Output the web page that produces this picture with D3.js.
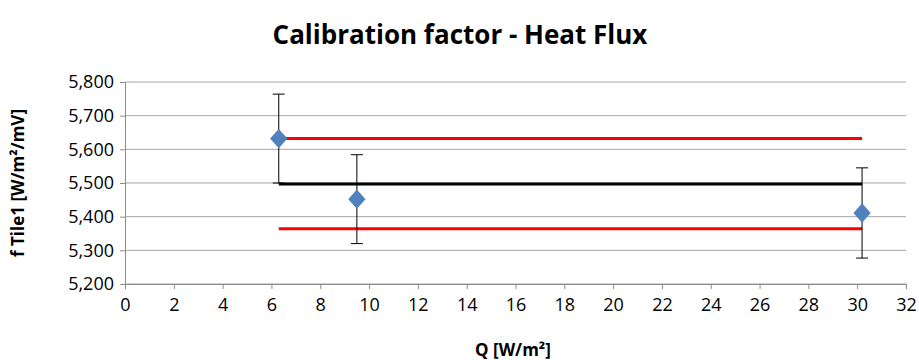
<!DOCTYPE html>
<html>
<head>
<meta charset="utf-8">
<title>Calibration factor - Heat Flux</title>
<script src="https://d3js.org/d3.v7.min.js"></script>
<style>
  body { margin: 0; background: #fff; }
  text { font-family: "Open Sans", "Noto Sans", sans-serif; }
</style>
</head>
<body>
<div id="chart"></div>
<script>
// measured points
var qValues = [6.3, 9.5, 30.2];
var fValues = [5632, 5452, 5411];
var errValues = [132, 132, 134];

// reference lines (mean and limits)
var lineStart = 6.3, lineEnd = 30.2;
var meanValue = 5497;
var upperValue = 5632;
var lowerValue = 5364;

var xTicks = d3.range(0, 33, 2);
var yTicks = [5200, 5300, 5400, 5500, 5600, 5700, 5800];

var svgDims = {width: 919, height: 360};
var margin = {top: 82, right: 13, bottom: 76, left: 125};
var width = svgDims.width - margin.left - margin.right;
var height = svgDims.height - margin.top - margin.bottom;

var svg = d3.select("#chart").append("svg")
  .attr("width", svgDims.width)
  .attr("height", svgDims.height);

var g = svg.append("g")
  .attr("transform", "translate(" + margin.left + "," + margin.top + ")");

var x = d3.scaleLinear().domain([0, 32]).range([0, width]);
var y = d3.scaleLinear().domain([5200, 5800]).range([height, 0]);

// gridlines
g.selectAll(".grid").data(yTicks).enter().append("line")
  .attr("x1", 0).attr("x2", width)
  .attr("y1", function(d){ return y(d); })
  .attr("y2", function(d){ return y(d); })
  .attr("stroke", "#a6a6a6").attr("stroke-width", 1);

// axes
var yAxis = d3.axisLeft(y).tickValues(yTicks).tickSize(5).tickPadding(6)
  .tickFormat(d3.format(","));
var xAxis = d3.axisBottom(x).tickValues(xTicks).tickSize(5).tickPadding(9);

var ya = g.append("g").call(yAxis);
var xa = g.append("g").attr("transform", "translate(0," + height + ")").call(xAxis);
[ya, xa].forEach(function(a){
  a.selectAll("path, line").attr("stroke", "#8c8c8c");
  a.selectAll(".tick text")
    .style("font-size", "18px")
    .style("font-family", "'Open Sans', sans-serif")
    .style("fill", "#000");
});

// reference lines
var refs = [
  {v: upperValue, c: "#ff0000"},
  {v: lowerValue, c: "#ff0000"},
  {v: meanValue, c: "#000000"}
];
g.selectAll(".ref").data(refs).enter().append("line")
  .attr("x1", x(lineStart)).attr("x2", x(lineEnd))
  .attr("y1", function(d){ return y(d.v); })
  .attr("y2", function(d){ return y(d.v); })
  .attr("stroke", function(d){ return d.c; })
  .attr("stroke-width", 3);

// error bars
var pts = qValues.map(function(q, i){ return {x: q, y: fValues[i], e: errValues[i]}; });
var eb = g.selectAll(".err").data(pts).enter().append("g");
eb.append("line")
  .attr("x1", function(d){ return x(d.x); }).attr("x2", function(d){ return x(d.x); })
  .attr("y1", function(d){ return y(d.y + d.e); }).attr("y2", function(d){ return y(d.y - d.e); })
  .attr("stroke", "#000").attr("stroke-width", 1);
[1, -1].forEach(function(s){
  eb.append("line")
    .attr("x1", function(d){ return x(d.x) - 6; }).attr("x2", function(d){ return x(d.x) + 6; })
    .attr("y1", function(d){ return y(d.y + s * d.e); }).attr("y2", function(d){ return y(d.y + s * d.e); })
    .attr("stroke", "#000").attr("stroke-width", 1);
});

// markers
g.selectAll(".pt").data(pts).enter().append("path")
  .attr("d", d3.symbol().type(d3.symbolDiamond2).size(190))
  .attr("transform", function(d){ return "translate(" + x(d.x) + "," + y(d.y) + ") scale(1,1.12)"; })
  .attr("fill", "#4f81bd");

// title and labels
svg.append("text").attr("x", 460).attr("y", 44).attr("text-anchor", "middle")
  .attr("font-size", 26).attr("font-weight", "bold").text("Calibration factor - Heat Flux");
svg.append("text").attr("x", 513).attr("y", 356).attr("text-anchor", "middle")
  .attr("font-size", 17).attr("font-weight", "bold").text("Q [W/m²]");
svg.append("text").attr("transform", "translate(24," + (margin.top + height / 2) + ") rotate(-90)")
  .attr("text-anchor", "middle").attr("font-size", 17).attr("font-weight", "bold")
  .text("f Tile1 [W/m²/mV]");
</script>
</body>
</html>
